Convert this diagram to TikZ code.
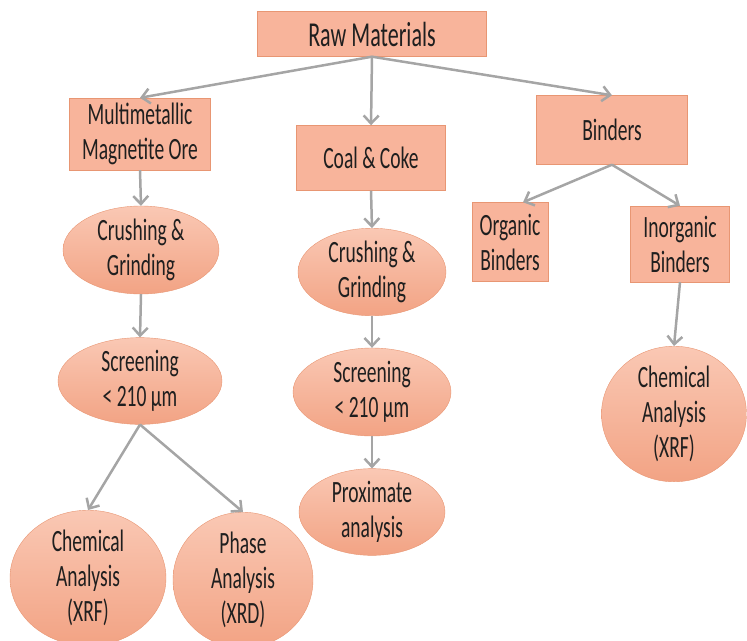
\documentclass[tikz,border=0pt]{standalone}
\usepackage{fontspec}
\setmainfont{Carlito}[FakeStretch=0.63]
\usepackage{tikz}
\usetikzlibrary{shapes.geometric, arrows.meta}
\definecolor{boxfill}{RGB}{248,180,155}
\definecolor{boxline}{RGB}{232,150,115}
\definecolor{ovaltop}{RGB}{250,200,180}
\definecolor{ovalbot}{RGB}{242,163,132}
\definecolor{arrowgray}{RGB}{165,165,165}

\begin{document}
\begin{tikzpicture}[x=1pt, y=-1pt,
    box/.style={draw=boxline, fill=boxfill, align=center, inner sep=0pt, text=black!88, font=\fontsize{31}{35}\selectfont},
    oval/.style={ellipse, draw=boxline, top color=ovaltop, bottom color=ovalbot, align=center, inner sep=0pt, text=black!88, font=\fontsize{31}{35}\selectfont},
    arr/.style={draw=arrowgray, line width=2.5pt, -{Straight Barb[length=8pt, width=15pt]}}]
            \useasboundingbox (0,0) rectangle (747,640);
            \node[box, minimum width=229pt, minimum height=45pt, font=\fontsize{35}{38}\selectfont] (raw) at (372,34) {Raw Materials};
            \node[box, minimum width=141pt, minimum height=72pt] (multi) at (140,134) {Multimetallic\\Magnetite Ore};
            \node[box, minimum width=149pt, minimum height=65pt] (coal) at (371,158) {Coal \& Coke};
            \node[box, minimum width=151pt, minimum height=69pt] (binders) at (612,130) {Binders};
            \node[box, minimum width=76pt, minimum height=79pt] (organic) at (510,242) {Organic\\Binders};
            \node[box, minimum width=99pt, minimum height=76pt] (inorganic) at (680,244) {Inorganic\\Binders};
            \node[oval, minimum width=156pt, minimum height=88pt] (crushL) at (141,250) {Crushing \&\\Grinding};
            \node[oval, minimum width=164pt, minimum height=86pt] (screenL) at (140,381) {Screening\\< 210 µm};
            \node[oval, minimum width=156pt, minimum height=126pt] (chemL) at (88,578) {Chemical\\Analysis\\(XRF)};
            \node[oval, minimum width=140pt, minimum height=120pt] (phase) at (243,580) {Phase\\Analysis\\(XRD)};
            \node[oval, minimum width=148pt, minimum height=84pt] (crushM) at (372,272) {Crushing \&\\Grinding};
            \node[oval, minimum width=158pt, minimum height=88pt] (screenM) at (372,392) {Screening\\< 210 µm};
            \node[oval, minimum width=146pt, minimum height=84pt] (prox) at (372,512) {Proximate\\analysis};
            \node[oval, minimum width=145pt, minimum height=118pt] (chemR) at (674,414) {Chemical\\Analysis\\(XRF)};
            \draw[arr] (raw.south) -- (multi.north);
            \draw[arr] (raw.south) -- (coal.north);
            \draw[arr] (raw.south) -- (binders.north);
            \draw[arr] (multi.south) -- (crushL.north);
            \draw[arr] (crushL.south) -- (screenL.north);
            \draw[arr] (screenL.south) -- (chemL.north);
            \draw[arr] (screenL.south) -- (phase.north);
            \draw[arr] (coal.south) -- (crushM.north);
            \draw[arr] (crushM.south) -- (screenM.north);
            \draw[arr] (screenM.south) -- (prox.north);
            \draw[arr] (binders.south) -- ([xshift=13pt]organic.north);
            \draw[arr] (binders.south) -- (inorganic.north);
            \draw[arr] (inorganic.south) -- (chemR.north);
        \end{tikzpicture}
\end{document}
